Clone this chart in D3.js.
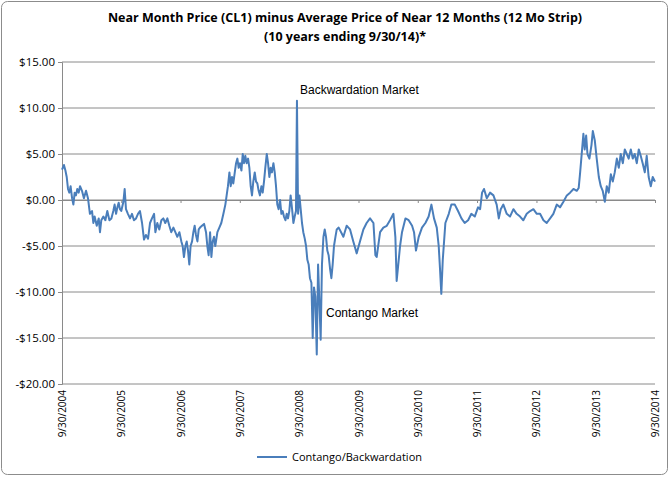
<!DOCTYPE html>
<html><head><meta charset="utf-8">
<script src="https://cdn.jsdelivr.net/npm/d3@7"></script>
<style>body{margin:0;background:#fff}</style></head>
<body><svg id="c" width="670" height="477"></svg>
<script>
const titleLines = ["Near Month Price (CL1) minus Average Price of Near 12 Months (12 Mo Strip)", "(10 years ending 9/30/14)*"];
const seriesName = "Contango/Backwardation";
const yTicks = [15, 10, 5, 0, -5, -10, -15, -20];
const xTickYears = [2004,2005,2006,2007,2008,2009,2010,2011,2012,2013,2014];
// days after 9/30/2004
const dayOffsets = [0,12,21,29,37,45,53,62,70,78,86,94,103,111,123,135,148,160,172,185,193,201,214,226,234,242,255,267,279,292,304,316,324,333,341,349,357,365,378,386,394,406,419,431,443,456,468,480,493,505,517,530,542,554,567,575,587,599,612,624,636,649,661,673,686,698,710,723,735,743,751,760,768,776,784,792,801,809,817,825,834,842,850,862,875,887,895,903,912,920,928,936,944,957,969,981,994,1006,1014,1022,1031,1039,1047,1055,1064,1072,1080,1088,1096,1105,1113,1121,1129,1137,1146,1154,1162,1170,1178,1187,1195,1203,1211,1219,1228,1236,1244,1252,1261,1269,1277,1285,1293,1302,1310,1318,1326,1334,1343,1351,1359,1367,1376,1384,1392,1400,1408,1417,1425,1433,1441,1447,1454,1462,1470,1478,1486,1495,1503,1511,1519,1527,1536,1544,1552,1560,1569,1577,1585,1593,1601,1610,1618,1626,1634,1642,1651,1659,1667,1675,1684,1692,1704,
1733,1753,1774,1794,1815,1835,1856,1876,1897,1918,1930,1938,1959,1979,2000,2020,2041,2053,2061,2082,2094,2115,2135,2156,2168,2180,2197,2217,2238,2258,2275,2291,2308,2320,2328,2336,2345,2361,2382,2398,2419,2439,2460,2480,2501,2521,2542,2562,2575,2587,2599,2616,2636,2657,2677,2690,2702,2718,2739,2759,2780,2800,2821,2841,2862,2883,2903,2924,2944,2965,2985,3006,3026,3047,3067,3088,3109,3129,3150,3170,3182,3191,3203,3211,3219,3228,3236,3248,3261,3269,3281,3293,3306,3318,3330,3343,3355,3367,3380,3392,3404,3417,3429,3441,3454,3466,3478,3490,3503,3515,3527,3540,3552,3564,3576,3589,3601,3613,3626,3638,3652];
const values = [3.3,3.8,3.2,2.5,1.2,0.8,1.5,0.2,-0.5,0.8,0.5,1.2,0.8,1.5,1.0,0.2,1.0,0.2,-1.5,-1.2,-2.5,-1.8,-2.8,-2.0,-3.5,-2.2,-1.8,-2.2,-1.2,-2.2,-2.0,-1.2,-0.5,-1.5,-0.8,-0.3,-1.0,-1.2,-0.2,1.2,-1.0,-1.5,-2.0,-1.5,-2.2,-2.0,-1.5,-1.2,-2.5,-4.3,-3.8,-4.2,-2.5,-2.0,-1.5,-3.5,-2.5,-3.2,-2.2,-2.0,-2.5,-2.0,-2.8,-3.5,-3.0,-3.5,-4.0,-3.5,-4.5,-5.0,-6.2,-5.0,-4.5,-5.5,-7.0,-5.0,-4.5,-3.5,-2.8,-3.8,-4.5,-3.2,-3.0,-2.8,-2.6,-3.5,-5.0,-6.0,-3.5,-6.2,-4.5,-4.0,-5.0,-3.5,-3.0,-2.5,-1.5,-0.5,0.5,1.5,3.0,1.5,2.5,1.8,3.0,4.0,4.5,3.5,4.0,3.2,5.0,4.0,4.8,4.0,4.5,3.5,1.5,0.5,2.0,3.0,2.0,1.8,1.0,0.5,1.5,0.8,2.0,3.5,5.0,4.0,2.5,3.5,3.0,4.0,3.0,1.5,-0.5,-1.0,0.0,-1.5,-1.2,-1.8,-2.2,-1.5,-2.0,-1.2,0.5,-1.0,-2.5,-1.8,-1.2,10.8,-1.5,0.5,-1.0,-2.5,-3.5,-4.2,-5.0,-6.5,-7.0,-8.5,-9.0,-15.0,-9.5,-10.5,-16.8,-7.0,-11.0,-15.2,-7.0,-4.0,-3.2,-4.0,-5.5,-6.0,-7.5,-8.5,-7.0,-5.0,-4.0,-3.2,-3.0,
-4.0,-2.8,-3.2,-4.5,-5.8,-4.5,-3.2,-2.5,-2.0,-2.5,-6.0,-6.2,-3.5,-3.0,-2.8,-2.2,-1.5,-4.0,-8.8,-5.0,-3.5,-2.0,-2.2,-2.8,-3.5,-5.5,-4.0,-3.0,-2.5,-1.8,-0.5,-2.0,-3.0,-5.0,-7.5,-10.2,-6.5,-2.5,-1.5,-0.5,-0.5,-1.2,-2.0,-2.5,-2.2,-1.5,-1.8,-0.8,-1.0,0.8,1.2,0.2,0.8,0.5,-0.5,-2.0,-1.0,-0.5,-1.5,-1.8,-1.0,-1.5,-1.8,-2.2,-1.5,-1.2,-1.0,-1.5,-1.5,-2.2,-2.5,-2.0,-1.5,-0.5,-0.8,-0.2,0.5,0.8,1.2,1.0,1.3,3.0,5.5,7.2,5.5,7.0,5.0,4.5,6.0,7.5,6.5,4.5,2.5,1.5,1.0,-0.2,1.5,0.8,2.8,2.0,3.0,4.5,3.5,5.0,4.0,5.5,5.0,4.5,5.5,4.5,5.0,4.0,5.5,4.8,4.0,3.0,4.8,2.5,1.5,2.5,2.0,3.2];

const base = new Date(2004, 8, 30);
const data = dayOffsets.map((d, i) => ({date: d3.timeDay.offset(base, d), v: values[i]}));
const svg = d3.select("#c");
const font = "'Liberation Sans', Arial, sans-serif";
const cfont = "'Open Sans', 'Noto Sans', sans-serif";

svg.append("rect").attr("x",1.5).attr("y",1.5).attr("width",666).attr("height",473).attr("rx",6)
  .attr("fill","#fff").attr("stroke","#8c8c8c").attr("stroke-width",1);

const x = d3.scaleTime().domain([base, new Date(2014,8,30)]).range([62, 655]);
const y = d3.scaleLinear().domain([-20, 15]).range([384, 62]);

svg.append("g").selectAll("line").data(yTicks).join("line")
  .attr("x1", 62).attr("x2", 655).attr("y1", d => y(d)).attr("y2", d => y(d))
  .attr("stroke", "#8a8a8a").attr("stroke-width", 1);

const ya = svg.append("g").attr("transform","translate(62,0)")
  .call(d3.axisLeft(y).tickValues(yTicks).tickSize(4).tickFormat(d => (d<0?"-$":"$") + Math.abs(d).toFixed(2)));
ya.select(".domain").attr("stroke","#8a8a8a");
ya.selectAll(".tick line").attr("stroke","#8a8a8a");
ya.selectAll("text").attr("font-family", cfont).attr("font-size", 11.5).attr("fill","#000");

const xDates = xTickYears.map(yr => new Date(yr, 8, 30));
const xa = svg.append("g").attr("transform", `translate(0,${y(0)})`)
  .call(d3.axisBottom(x).tickValues(xDates).tickSize(3).tickFormat(""));
xa.select(".domain").attr("stroke","#8a8a8a");
xa.selectAll(".tick line").attr("stroke","#8a8a8a");

svg.append("g").selectAll("text").data(xDates).join("text")
  .attr("transform", d => `translate(${x(d)+4},${y(-20)+6}) rotate(-90)`)
  .attr("text-anchor","end").attr("font-family", cfont).attr("font-size", 10)
  .text(d => d3.timeFormat("%-m/%-d/%Y")(d));

svg.append("path").datum(data)
  .attr("d", d3.line().x(d => x(d.date)).y(d => y(d.v)))
  .attr("fill","none").attr("stroke","#4a7ebb").attr("stroke-width",2).attr("stroke-linejoin","round");

svg.append("g").selectAll("text").data(titleLines).join("text")
  .attr("x", 345).attr("y", (d,i) => 22 + i*19).attr("text-anchor","middle")
  .attr("font-family", cfont).attr("font-weight","bold").attr("font-size", 12.5).text(d => d);

svg.append("text").attr("x", 300).attr("y", 94).attr("font-family", font).attr("font-size", 12).text("Backwardation Market");
svg.append("text").attr("x", 326).attr("y", 317).attr("font-family", font).attr("font-size", 12).text("Contango Market");

svg.append("line").attr("x1",257).attr("x2",287).attr("y1",457).attr("y2",457).attr("stroke","#4a7ebb").attr("stroke-width",2);
svg.append("text").attr("x",292).attr("y",461).attr("font-family", cfont).attr("font-size",11).text(seriesName);
</script></body></html>
